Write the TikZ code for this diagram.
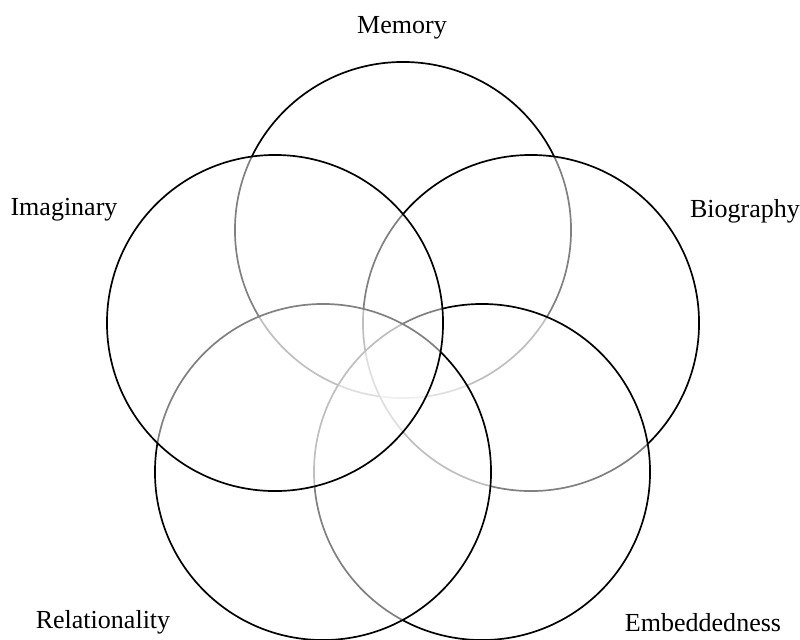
\documentclass[tikz,border=0pt]{standalone}
\usepackage{fontspec}
\setmainfont{Liberation Serif}
\usetikzlibrary{positioning}

\begin{document}
\begin{tikzpicture}[
    x=0.025cm, y=-0.025cm,
    venn/.style={draw, circle, line width=1.2pt, minimum size=8.4cm, inner sep=0pt, outer sep=0pt, fill=white, fill opacity=0.5},
    lbl/.style={font=\fontsize{18.5}{22}\selectfont, inner sep=0pt},
]
    \useasboundingbox (0,0) rectangle (800,639);

    % circles, drawn clockwise from the top
    \node[venn] (memory) at (403,230) {};
    \node[venn] (biography) at (531,323) {};
    \node[venn] (embedded) at (482,472) {};
    \node[venn] (relation) at (323,472) {};
    \node[venn] (imaginary) at (275,323) {};

    % labels
    \node[lbl] (memorytxt) at (402,28) {Memory};
    \node[lbl] (biographytxt) at (745,211) {Biography};
    \node[lbl] (embeddedtxt) at (703,623) {Embeddedness};
    \node[lbl] (relationtxt) at (103,622) {Relationality};
    \node[lbl] (imaginarytxt) at (64,210) {Imaginary};

\end{tikzpicture}
\end{document}
